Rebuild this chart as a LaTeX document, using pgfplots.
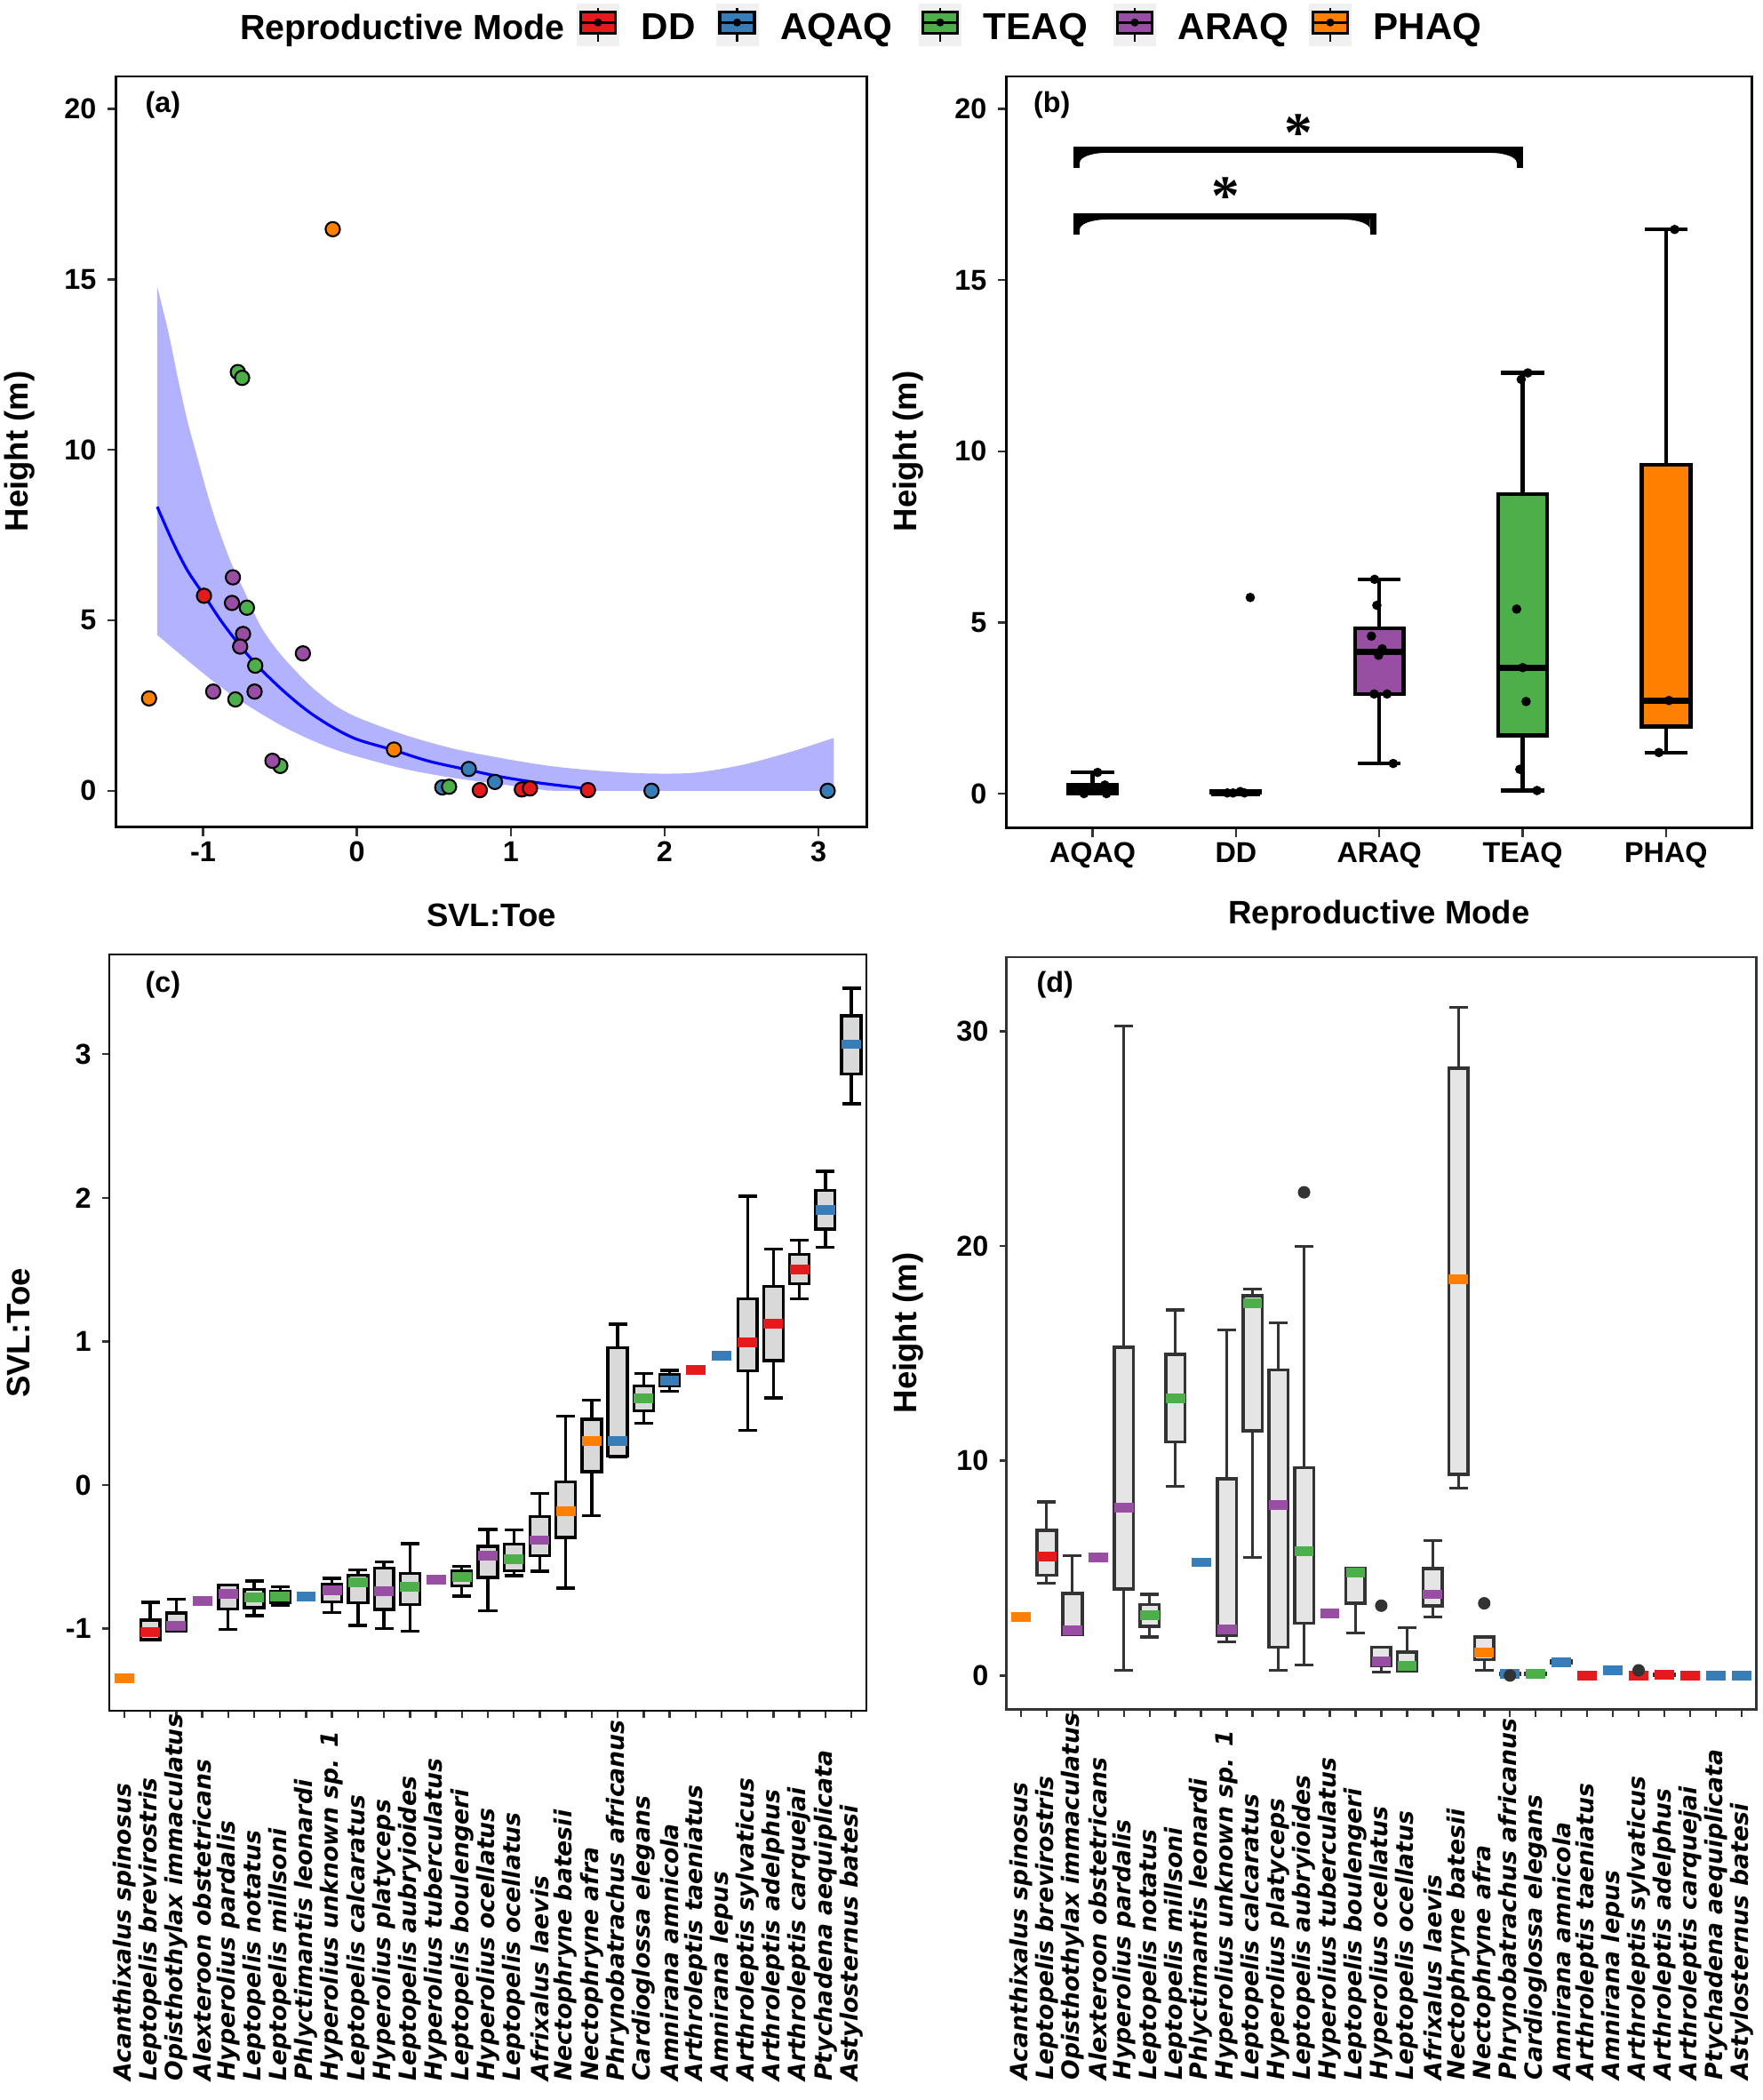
\documentclass[border=0pt]{standalone}
\usepackage{fontspec}
\setmainfont{Liberation Sans}
\newfontfamily\seriffont{Liberation Serif}
\newfontfamily\dejavu{DejaVu Sans}
\usepackage{pgfplots}
\pgfplotsset{compat=1.18}
\usepgfplotslibrary{statistics,fillbetween}
\definecolor{cRed}{HTML}{E41A1C}
\definecolor{cBlue}{HTML}{377EB8}
\definecolor{cGreen}{HTML}{4DAF4A}
\definecolor{cPurple}{HTML}{984EA3}
\definecolor{cOrange}{HTML}{FF7F00}
\newcommand\tickfont{\fontsize{9.2}{10}\selectfont\bfseries}
\newcommand\axlabfont{\fontsize{10.4}{12}\selectfont\bfseries}
\newcommand\spfont{\dejavu\fontsize{7.6}{9}\selectfont\bfseries\itshape}
\pgfplotsset{
  panel/.style={
    scale only axis, anchor=north west,
    axis line style={line width=0.8pt, black},
    tick align=outside, major tick length=1mm,
    tick style={line width=0.7pt, black!80},
    xtick pos=left, ytick pos=left,
    ticklabel style={font=\tickfont, text=black},
    boxplot/draw direction=y,
  },
  species/.style={
    xmin=0.42, xmax=29.58, xtick={1,...,29},
    major tick length=0.8mm,
    xticklabels={Acanthixalus spinosus, Leptopelis brevirostris, Opisthothylax immaculatus, Alexteroon obstetricans, Hyperolius pardalis, Leptopelis notatus, Leptopelis millsoni, Phlyctimantis leonardi, Hyperolius unknown sp. 1, Leptopelis calcaratus, Hyperolius platyceps, Leptopelis aubryioides, Hyperolius tuberculatus, Leptopelis boulengeri, Hyperolius ocellatus, Leptopelis ocellatus, Afrixalus laevis, Nectophryne batesii, Nectophryne afra, Phrynobatrachus africanus, Cardioglossa elegans, Amnirana amnicola, Arthroleptis taeniatus, Amnirana lepus, Arthroleptis sylvaticus, Arthroleptis adelphus, Arthroleptis carquejai, Ptychadena aequiplicata, Astylosternus batesi},
    xticklabel style={font=\spfont, rotate=90, anchor=west},
    xticklabel shift=42.1mm,
    boxplot/box extend=0.75, boxplot/whisker extend=0.72,
  },
}
% panel b box
\newcommand{\bbox}[7]{\addplot[black, boxplot prepared={draw position=#1, lower whisker=#2, lower quartile=#3, median=#4, upper quartile=#5, upper whisker=#6, box extend=0.34, whisker extend=0.3}, boxplot/every box/.style={fill=#7, draw=black, line width=1.25pt}, boxplot/every median/.style={draw=black, line width=2.1pt}, boxplot/every whisker/.style={draw=black, line width=1.25pt}] coordinates {};}
% panel c/d box
\newcommand{\spbox}[7]{\addplot[boxplot prepared={draw position=#1, lower whisker=#2, lower quartile=#3, median=#4, upper quartile=#5, upper whisker=#6}, boxplot/every median/.style={draw=#7, line width=3.1pt}] coordinates {};}
\newcommand{\spone}[3]{\addplot[boxplot prepared={draw position=#1, lower whisker=#2, lower quartile=#2, median=#2, upper quartile=#2, upper whisker=#2}, boxplot/every box/.style={draw=none, fill=none}, boxplot/every whisker/.style={draw=none}, boxplot/every median/.style={draw=#3, line width=3.1pt}] coordinates {};}
\newcommand{\legkey}[2]{%
  \fill[black!6] (#1mm-2.4mm,-0.4mm) rectangle (#1mm+2.4mm,-5.2mm);
  \draw[line width=0.7pt] (#1mm,-0.93mm) -- (#1mm,-4.67mm);
  \draw[fill=#2, line width=0.9pt] (#1mm-1.95mm,-1.33mm) rectangle (#1mm+1.95mm,-3.73mm);
  \draw[line width=0.9pt] (#1mm-1.95mm,-2.53mm) -- (#1mm+1.95mm,-2.53mm);
  \fill (#1mm,-2.53mm) circle (0.45mm);}
\begin{document}
\begin{tikzpicture}
% ---------- legend ----------
\node[anchor=base east, inner sep=0pt, font=\fontsize{11.2}{12}\selectfont\bfseries] at (63.6mm,-4.4mm) {Reproductive Mode};
\legkey{67.3}{cRed}
\node[anchor=base west, inner sep=0pt, font=\fontsize{12}{12}\selectfont\bfseries] at (72.1mm,-4.4mm) {DD};
\legkey{82.95}{cBlue}
\node[anchor=base west, inner sep=0pt, font=\fontsize{12}{12}\selectfont\bfseries] at (87.75mm,-4.4mm) {AQAQ};
\legkey{105.8}{cGreen}
\node[anchor=base west, inner sep=0pt, font=\fontsize{12}{12}\selectfont\bfseries] at (110.6mm,-4.4mm) {TEAQ};
\legkey{127.7}{cPurple}
\node[anchor=base west, inner sep=0pt, font=\fontsize{12}{12}\selectfont\bfseries] at (132.5mm,-4.4mm) {ARAQ};
\legkey{149.7}{cOrange}
\node[anchor=base west, inner sep=0pt, font=\fontsize{12}{12}\selectfont\bfseries] at (154.5mm,-4.4mm) {PHAQ};

% ---------- panel (a) ----------
\begin{axis}[panel, at={(13.07mm,-8.6mm)}, width=84.47mm, height=84.45mm,
  xmin=-1.565, xmax=3.314, ymin=-1.06, ymax=20.95,
  xtick={-1,0,1,2,3}, xticklabels={-1,0,1,2,3},
  xticklabel style={yshift=0.6mm},
  ytick={0,5,10,15,20}, yticklabels={0,5,10,15,20}]
\addplot[name path=U, draw=none, smooth] coordinates {(-1.298,14.78) (-1.226,13.46) (-1.163,12.08) (-1.100,10.82) (-1.038,9.79) (-0.975,8.76) (-0.912,7.84) (-0.818,6.69) (-0.724,5.78) (-0.630,4.86) (-0.505,4.05) (-0.317,3.14) (-0.160,2.56) (0.0,2.16) (0.310,1.64) (0.624,1.24) (0.937,0.96) (1.251,0.73) (1.564,0.59) (1.878,0.51) (2.191,0.53) (2.505,0.76) (2.818,1.14) (3.100,1.55)};
\addplot[name path=L, draw=none, smooth] coordinates {(-1.298,4.57) (-1.100,3.82) (-0.944,3.25) (-0.787,2.73) (-0.630,2.28) (-0.473,1.87) (-0.317,1.53) (-0.160,1.24) (0.0,1.01) (0.310,0.64) (0.624,0.38) (0.937,0.19) (1.188,0.04) (1.31,0) (2.0,0) (3.1,0)};
\addplot[fill=blue!30, draw=none] fill between[of=U and L];
\addplot[blue, line width=0.9pt, smooth] coordinates {(-1.298,8.33) (-1.194,7.27) (-1.100,6.45) (-0.991,5.72) (-0.881,4.97) (-0.755,4.23) (-0.630,3.59) (-0.473,2.91) (-0.317,2.33) (-0.160,1.87) (0.0,1.51) (0.241,1.19) (0.467,0.87) (0.727,0.61) (0.937,0.41) (1.188,0.23) (1.439,0.09) (1.50,0.04)};
\addplot[only marks, mark=*, mark size=2.3pt, mark options={fill=cBlue, draw=black, line width=0.6pt}] coordinates {(0.727,0.64) (0.897,0.26) (0.555,0.10) (1.915,0.0) (3.06,0.0)};
\addplot[only marks, mark=*, mark size=2.3pt, mark options={fill=cGreen, draw=black, line width=0.6pt}] coordinates {(-0.774,12.28) (-0.746,12.11) (-0.715,5.37) (-0.661,3.67) (-0.790,2.68) (-0.498,0.73) (0.599,0.12)};
\addplot[only marks, mark=*, mark size=2.3pt, mark options={fill=cRed, draw=black, line width=0.6pt}] coordinates {(-0.994,5.72) (0.799,0.02) (1.072,0.04) (1.125,0.07) (1.502,0.02)};
\addplot[only marks, mark=*, mark size=2.3pt, mark options={fill=cPurple, draw=black, line width=0.6pt}] coordinates {(-0.806,6.26) (-0.812,5.51) (-0.740,4.60) (-0.759,4.23) (-0.351,4.03) (-0.934,2.91) (-0.665,2.91) (-0.549,0.88)};
\addplot[only marks, mark=*, mark size=2.3pt, mark options={fill=cOrange, draw=black, line width=0.6pt}] coordinates {(-0.157,16.47) (-1.351,2.71) (0.241,1.21)};
\end{axis}

% ---------- panel (b) ----------
\begin{axis}[panel, at={(113.27mm,-8.6mm)}, width=83.9mm, height=84.55mm,
  xmin=0.4, xmax=5.6, ymin=-1.0, ymax=20.95,
  xtick={1,2,3,4,5}, xticklabels={AQAQ,DD,ARAQ,TEAQ,PHAQ},
  xticklabel style={yshift=0.6mm},
  ytick={0,5,10,15,20}, yticklabels={0,5,10,15,20}]
\bbox{1}{0}{0}{0.09}{0.25}{0.62}{cBlue}
\bbox{2}{0.02}{0.02}{0.02}{0.06}{0.06}{cRed}
\bbox{3}{0.88}{2.91}{4.135}{4.825}{6.26}{cPurple}
\bbox{4}{0.09}{1.70}{3.68}{8.745}{12.29}{cGreen}
\bbox{5}{1.20}{1.96}{2.72}{9.60}{16.48}{cOrange}
\addplot[only marks, mark=*, mark size=1.3pt, black] coordinates {(0.94,0) (1.035,0.62) (1.086,0.25) (1.097,0) (1.008,0.09) (1.94,0.02) (1.98,0.02) (2.03,0.06) (2.06,0.02) (2.10,5.73) (2.967,6.26) (2.983,5.50) (2.945,4.60) (3.02,4.23) (2.995,4.04) (2.964,2.91) (3.054,2.91) (3.097,0.88) (3.99,12.10) (4.036,12.29) (3.958,5.39) (4.024,2.69) (3.98,0.71) (4.10,0.09) (4.0,3.68) (5.06,16.48) (4.95,1.20) (5.02,2.72)};
% significance brackets
\draw[line width=2pt, line join=miter] (axis cs:0.889,16.32) -- (axis cs:0.889,16.86) -- (axis cs:2.957,16.86) -- (axis cs:2.957,16.32);
\fill (axis cs:0.911,16.769) -- (axis cs:1.095,16.769) .. controls (axis cs:0.993,16.769) and (axis cs:0.911,16.641) .. (axis cs:0.911,16.484) -- cycle;
\fill (axis cs:2.935,16.769) -- (axis cs:2.751,16.769) .. controls (axis cs:2.853,16.769) and (axis cs:2.935,16.641) .. (axis cs:2.935,16.484) -- cycle;
\draw[line width=2pt, line join=miter] (axis cs:0.889,18.27) -- (axis cs:0.889,18.81) -- (axis cs:3.98,18.81) -- (axis cs:3.98,18.27);
\fill (axis cs:0.911,18.719) -- (axis cs:1.095,18.719) .. controls (axis cs:0.993,18.719) and (axis cs:0.911,18.591) .. (axis cs:0.911,18.434) -- cycle;
\fill (axis cs:3.958,18.719) -- (axis cs:3.774,18.719) .. controls (axis cs:3.876,18.719) and (axis cs:3.958,18.591) .. (axis cs:3.958,18.434) -- cycle;
\node[font=\seriffont\bfseries\fontsize{18}{18}\selectfont, inner sep=0pt] at (axis cs:1.929,17.45) {*};
\node[font=\seriffont\bfseries\fontsize{18}{18}\selectfont, inner sep=0pt] at (axis cs:2.439,19.31) {*};
\end{axis}

% ---------- panel (c) ----------
\begin{axis}[panel, species, at={(12.3mm,-107.4mm)}, width=85.2mm, height=85.1mm,
  ymin=-1.572, ymax=3.694, ytick={-1,0,1,2,3}, yticklabels={-1,0,1,2,3},
  boxplot/every box/.style={fill=black!15, draw=black, line width=0.95pt},
  boxplot/every whisker/.style={draw=black, line width=0.95pt}]
\spone{1}{-1.346}{cOrange}
\spbox{2}{-1.076}{-1.076}{-1.023}{-0.941}{-0.817}{cRed}
\spbox{3}{-1.016}{-1.016}{-0.980}{-0.892}{-0.796}{cPurple}
\spone{4}{-0.810}{cPurple}
\spbox{5}{-1.005}{-0.863}{-0.760}{-0.696}{-0.696}{cPurple}
\spbox{6}{-0.909}{-0.853}{-0.782}{-0.728}{-0.668}{cGreen}
\spbox{7}{-0.838}{-0.817}{-0.774}{-0.739}{-0.710}{cGreen}
\spone{8}{-0.774}{cBlue}
\spbox{9}{-0.888}{-0.814}{-0.732}{-0.693}{-0.650}{cPurple}
\spbox{10}{-0.977}{-0.821}{-0.675}{-0.629}{-0.593}{cGreen}
\spbox{11}{-0.998}{-0.867}{-0.739}{-0.579}{-0.536}{cPurple}
\spbox{12}{-1.016}{-0.831}{-0.710}{-0.615}{-0.409}{cGreen}
\spone{13}{-0.661}{cPurple}
\spbox{14}{-0.774}{-0.703}{-0.639}{-0.597}{-0.568}{cGreen}
\spbox{15}{-0.874}{-0.643}{-0.494}{-0.426}{-0.309}{cPurple}
\spbox{16}{-0.632}{-0.597}{-0.519}{-0.412}{-0.313}{cGreen}
\spbox{17}{-0.600}{-0.494}{-0.384}{-0.220}{-0.060}{cPurple}
\spbox{18}{-0.718}{-0.366}{-0.185}{0.021}{0.480}{cOrange}
\spbox{19}{-0.213}{0.092}{0.306}{0.458}{0.590}{cOrange}
\spbox{20}{0.195}{0.202}{0.306}{0.956}{1.119}{cBlue}
\spbox{21}{0.430}{0.515}{0.604}{0.689}{0.778}{cGreen}
\spbox{22}{0.654}{0.689}{0.728}{0.767}{0.799}{cBlue}
\spone{23}{0.799}{cRed}
\spone{24}{0.899}{cBlue}
\spbox{25}{0.380}{0.796}{0.991}{1.297}{2.011}{cRed}
\spbox{26}{0.607}{0.867}{1.123}{1.385}{1.641}{cRed}
\spbox{27}{1.297}{1.400}{1.503}{1.606}{1.705}{cRed}
\spbox{28}{1.655}{1.783}{1.915}{2.050}{2.185}{cBlue}
\spbox{29}{2.654}{2.860}{3.069}{3.268}{3.460}{cBlue}
\end{axis}

% ---------- panel (d) ----------
\begin{axis}[panel, species, at={(113.27mm,-107.7mm)}, width=84.4mm, height=84.67mm,
  xmin=0.44, ymin=-1.59, ymax=33.45, ytick={0,10,20,30}, yticklabels={0,10,20,30},
  axis line style={black!80},
  boxplot/every box/.style={fill=black!10, draw=black!80, line width=1.05pt},
  boxplot/every whisker/.style={draw=black!80, line width=0.9pt}]
\addplot[only marks, mark=*, mark size=1.8pt, black!80] coordinates {(12,22.50) (15,3.25) (19,3.36) (20,0.0) (25,0.24)};
\spone{1}{2.72}{cOrange}
\spbox{2}{4.30}{4.67}{5.55}{6.76}{8.08}{cRed}
\spbox{3}{1.93}{1.93}{2.09}{3.83}{5.57}{cPurple}
\spone{4}{5.50}{cPurple}
\spbox{5}{0.23}{4.02}{7.80}{15.28}{30.23}{cPurple}
\spbox{6}{1.79}{2.28}{2.79}{3.30}{3.78}{cGreen}
\spbox{7}{8.80}{10.87}{12.91}{14.95}{17.02}{cGreen}
\spone{8}{5.27}{cBlue}
\spbox{9}{1.58}{1.86}{2.16}{9.15}{16.09}{cPurple}
\spbox{10}{5.50}{11.38}{17.34}{17.69}{17.99}{cGreen}
\spbox{11}{0.23}{1.32}{7.92}{14.23}{16.42}{cPurple}
\spbox{12}{0.49}{2.44}{5.80}{9.68}{19.99}{cGreen}
\spone{13}{2.90}{cPurple}
\spbox{14}{1.97}{3.37}{4.81}{4.97}{4.97}{cGreen}
\spbox{15}{0.15}{0.47}{0.66}{1.32}{1.32}{cPurple}
\spbox{16}{0.22}{0.22}{0.46}{1.08}{2.24}{cGreen}
\spbox{17}{2.74}{3.25}{3.78}{4.99}{6.29}{cPurple}
\spbox{18}{8.71}{9.36}{18.46}{28.28}{31.11}{cOrange}
\spbox{19}{0.24}{0.74}{1.08}{1.78}{1.78}{cOrange}
\spbox{20}{0.05}{0.05}{0.08}{0.12}{0.12}{cBlue}
\spbox{21}{0.04}{0.05}{0.08}{0.11}{0.12}{cGreen}
\spbox{22}{0.55}{0.58}{0.63}{0.68}{0.70}{cBlue}
\spone{23}{0.0}{cRed}
\spone{24}{0.24}{cBlue}
\spone{25}{0.0}{cRed}
\spbox{26}{0.0}{0.02}{0.04}{0.07}{0.08}{cRed}
\spone{27}{0.0}{cRed}
\spone{28}{0.0}{cBlue}
\spone{29}{0.0}{cBlue}
\end{axis}

% ---------- panel tags and axis titles ----------
\node[anchor=west, inner sep=0pt, font=\tickfont] at (16.3mm,-11.8mm) {(a)};
\node[anchor=west, inner sep=0pt, font=\tickfont] at (116.25mm,-11.8mm) {(b)};
\node[anchor=west, inner sep=0pt, font=\tickfont] at (16.3mm,-110.86mm) {(c)};
\node[anchor=west, inner sep=0pt, font=\tickfont] at (116.6mm,-110.86mm) {(d)};
\node[rotate=90, inner sep=0pt, font=\axlabfont] at (2.2mm,-50.8mm) {Height (m)};
\node[inner sep=0pt, font=\axlabfont] at (55.3mm,-103.0mm) {SVL:Toe};
\node[rotate=90, inner sep=0pt, font=\axlabfont] at (102.2mm,-50.8mm) {Height (m)};
\node[inner sep=0pt, font=\axlabfont] at (155.2mm,-103.0mm) {Reproductive Mode};
\node[rotate=90, inner sep=0pt, font=\axlabfont] at (2.1mm,-150.0mm) {SVL:Toe};
\node[rotate=90, inner sep=0pt, font=\axlabfont] at (102.2mm,-150.0mm) {Height (m)};
\pgfresetboundingbox
\path[use as bounding box] (0,0) rectangle (198.4mm,-236.3mm);
\end{tikzpicture}
\end{document}
